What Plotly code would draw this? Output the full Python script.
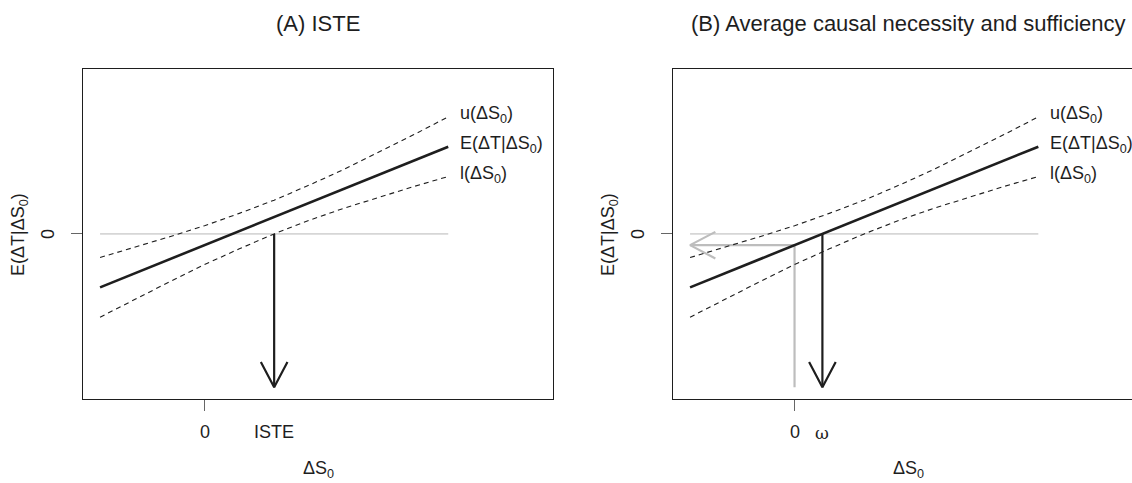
import plotly.graph_objects as go

# --- values -------------------------------------------------------------
ds0 = [-3, -2, -1, 0, 1, 2, 3, 4, 5, 6, 7]
e_mean = [-1.9, -1.4, -0.9, -0.4, 0.1, 0.6, 1.1, 1.6, 2.1, 2.6, 3.1]
u_band = [-0.84, -0.48, -0.10, 0.29, 0.73, 1.20, 1.73, 2.29, 2.90, 3.52, 4.16]
l_band = [-2.96, -2.32, -1.70, -1.09, -0.53, 0.00, 0.48, 0.91, 1.30, 1.68, 2.04]
iste = 2.0          # where l(ΔS0) reaches 0
omega = 0.8         # where E(ΔT|ΔS0) reaches 0
arrow_end_y = -5.45
curve_labels = ["u(ΔS<sub>0</sub>)", "E(ΔT|ΔS<sub>0</sub>)", "l(ΔS<sub>0</sub>)"]
titles = ["(A) ISTE", "(B) Average causal necessity and sufficiency"]

# --- geometry -----------------------------------------------------------
W, H = 1132, 483
X_RANGE_A = [-3.49, 10.0]
X_RANGE_B = [-3.49, 9.69]
Y_RANGE = [-5.85, 5.85]
DOM_A = [83 / W, 552.7 / W]
DOM_B = [673 / W, 1.0]
DOM_Y = [(H - 398.5) / H, (H - 69.3) / H]

px_per_x = (DOM_A[1] - DOM_A[0]) * W / (X_RANGE_A[1] - X_RANGE_A[0])
px_per_y = (DOM_Y[1] - DOM_Y[0]) * H / (Y_RANGE[1] - Y_RANGE[0])

HEAD_BACK, HEAD_SIDE = 25.3, 13.3   # arrowhead size in px

INK = "#1e1e1e"
ZERO_GREY = "#d6d6d6"
ARROW_GREY = "#bdbdbd"
FONT = "Liberation Sans, Arial, sans-serif"


def e_at(x):
    # straight line through the first and last fitted means
    x0, x1 = ds0[0], ds0[-1]
    y0, y1 = e_mean[0], e_mean[-1]
    return y0 + (y1 - y0) * (x - x0) / (x1 - x0)


def down_arrow(x, y_top, y_tip, color, xa, ya):
    dx = HEAD_SIDE / px_per_x
    dy = HEAD_BACK / px_per_y
    return [
        go.Scatter(x=[x, x], y=[y_top, y_tip], mode="lines",
                   line=dict(color=color, width=2.2), xaxis=xa, yaxis=ya,
                   hoverinfo="skip", showlegend=False),
        go.Scatter(x=[x - dx, x, x + dx], y=[y_tip + dy, y_tip, y_tip + dy],
                   mode="lines", line=dict(color=color, width=2.2),
                   xaxis=xa, yaxis=ya, hoverinfo="skip", showlegend=False),
    ]


def left_arrow(x_start, x_tip, y, color, xa, ya):
    dx = HEAD_BACK / px_per_x
    dy = HEAD_SIDE / px_per_y
    return [
        go.Scatter(x=[x_start, x_tip], y=[y, y], mode="lines",
                   line=dict(color=color, width=2.2), xaxis=xa, yaxis=ya,
                   hoverinfo="skip", showlegend=False),
        go.Scatter(x=[x_tip + dx, x_tip, x_tip + dx], y=[y + dy, y, y - dy],
                   mode="lines", line=dict(color=color, width=2.2),
                   xaxis=xa, yaxis=ya, hoverinfo="skip", showlegend=False),
    ]


def curves(xa, ya):
    common = dict(xaxis=xa, yaxis=ya, hoverinfo="skip", showlegend=False, mode="lines")
    return [
        go.Scatter(x=ds0, y=u_band, line=dict(color=INK, width=1.1, dash="5px,4px"), **common),
        go.Scatter(x=ds0, y=l_band, line=dict(color=INK, width=1.1, dash="5px,4px"), **common),
        go.Scatter(x=ds0, y=e_mean, line=dict(color=INK, width=2.6), **common),
    ]


def zero_line(xa, ya):
    return go.Scatter(x=[ds0[0], ds0[-1]], y=[0, 0], mode="lines",
                      line=dict(color=ZERO_GREY, width=1.6), xaxis=xa, yaxis=ya,
                      hoverinfo="skip", showlegend=False)


traces = []
# panel A
traces.append(zero_line("x", "y"))
traces += curves("x", "y")
traces += down_arrow(iste, 0, arrow_end_y, INK, "x", "y")

# panel B
traces.append(zero_line("x2", "y2"))
traces.append(go.Scatter(x=[0, 0], y=[e_at(0), arrow_end_y], mode="lines",
                         line=dict(color=ARROW_GREY, width=2.2), xaxis="x2", yaxis="y2",
                         hoverinfo="skip", showlegend=False))
traces += left_arrow(0, ds0[0], e_at(0), ARROW_GREY, "x2", "y2")
traces += curves("x2", "y2")
traces += down_arrow(omega, 0, arrow_end_y, INK, "x2", "y2")

fig = go.Figure(traces)

axis_common = dict(showgrid=False, zeroline=False, showline=True, linecolor=INK,
                   linewidth=1.4, ticks="outside", ticklen=11, tickcolor="#666666",
                   tickwidth=1.4, showticklabels=False, tickvals=[0], fixedrange=True)

fig.update_layout(
    width=W, height=H,
    margin=dict(l=0, r=0, t=0, b=0),
    paper_bgcolor="white", plot_bgcolor="white",
    font=dict(family=FONT, color=INK, size=18),
    xaxis=dict(domain=DOM_A, range=X_RANGE_A, anchor="y", mirror=True, **axis_common),
    yaxis=dict(domain=DOM_Y, range=Y_RANGE, anchor="x", mirror=True, **axis_common),
    xaxis2=dict(domain=DOM_B, range=X_RANGE_B, anchor="y2", mirror=True, **axis_common),
    yaxis2=dict(domain=DOM_Y, range=Y_RANGE, anchor="x2", mirror=False, **axis_common),
)

annotations = []


def pap(xpx, ypx):
    return xpx / W, (H - ypx) / H


def add_text(text, xpx, ypx, size=18, angle=0, family=FONT, xanchor="center"):
    x, y = pap(xpx, ypx)
    annotations.append(dict(text=text, x=x, y=y, xref="paper", yref="paper",
                            showarrow=False, xanchor=xanchor, yanchor="middle",
                            textangle=angle, font=dict(size=size, family=family, color=INK)))


for box_left, box_center, title in [(83, 318, titles[0]), (673, 908, titles[1])]:
    add_text(title, box_center, 23, size=22)
    add_text("ΔS<sub>0</sub>", box_center, 469)
    add_text("E(ΔT|ΔS<sub>0</sub>)", box_left - 63, 235, angle=-90)
    add_text("0", box_left - 35, 234, angle=-90)

# x tick labels
x0a = DOM_A[0] * W + (0 - X_RANGE_A[0]) * px_per_x
x0b = DOM_B[0] * W + (0 - X_RANGE_B[0]) * px_per_x
add_text("0", x0a, 432)
add_text("ISTE", x0a + iste * px_per_x, 432)
add_text("0", x0b, 432)
add_text("ω", x0b + omega * px_per_x, 433, size=17, family="DejaVu Serif, Liberation Serif, serif")

# curve labels at the right ends
for xa, ya in [("x", "y"), ("x2", "y2")]:
    for lab, yv in zip(curve_labels, [u_band[-1], e_mean[-1], l_band[-1]]):
        annotations.append(dict(text=lab, x=ds0[-1], y=yv, xref=xa, yref=ya,
                                showarrow=False, xanchor="left", yanchor="middle",
                                xshift=10, yshift=2, font=dict(size=18, family=FONT, color=INK)))

fig.update_layout(annotations=annotations)
fig.write_html("out.html")
